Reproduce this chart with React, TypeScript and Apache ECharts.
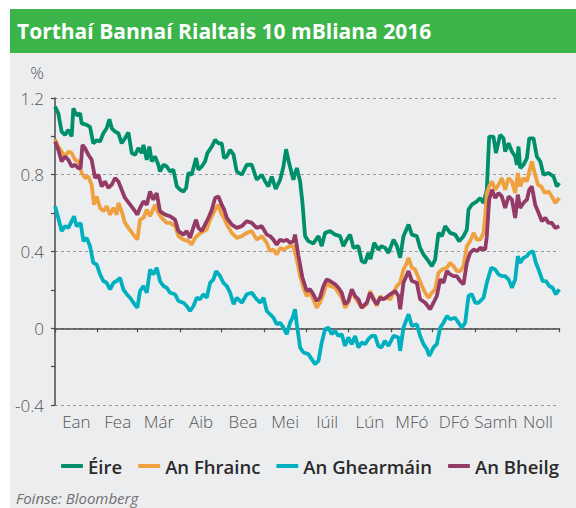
import React, { useEffect, useRef } from "react";
import * as echarts from "echarts";

const TITLE = "Torthaí Bannaí Rialtais 10 mBliana 2016";
const SOURCE = "Foinse: Bloomberg";
const MONTHS = ["Ean", "Fea", "Már", "Aib", "Bea", "Mei", "Iúil", "Lún", "MFó", "DFó", "Samh", "Noll"];
const MONTH_STARTS = [0, 31, 60, 91, 121, 152, 182, 213, 244, 274, 305, 335, 366];
const Y_TICKS = [-0.4, 0, 0.4, 0.8, 1.2];
const SERIES_NAMES = ["Éire", "An Fhrainc", "An Ghearmáin", "An Bheilg"];
const COLORS = ["#008f6b", "#f0a13f", "#00b0bf", "#943a66"];

// [day of year, yield %]
const eire: number[][] = [
  [0,1.155],[2.4,1.12],[4.8,1.025],[7.3,1.008],[9.7,1.034],[12.1,1.0],[13.3,1.146],[15.7,1.11],[18.2,1.12],[19.4,1.068],[23,1.06],[25.4,1.05],[27.8,0.964],[30.3,0.98],[32.7,0.973],[35.1,1.016],[37.5,1.042],[39.5,1.089],[41.2,1.042],[43.6,1.025],[46,1.016],[48.4,0.964],[50.8,0.99],[53.3,1.02],[55.7,0.913],[58.1,0.904],[60.5,0.939],[63,0.913],[64.2,0.956],[66.6,0.878],[68.5,0.947],[70.2,0.869],[72.6,0.895],[75,0.852],[76.2,0.817],[78.7,0.852],[81.1,0.843],[83.5,0.817],[85.9,0.826],[88.4,0.739],[90.8,0.722],[93.2,0.713],[95.1,0.73],[96.8,0.809],[99.2,0.8],[102.4,0.887],[104.1,0.826],[106.5,0.843],[108.9,0.869],[110.6,0.913],[113.8,0.947],[116.2,0.982],[118.6,0.964],[121,0.964],[122.7,0.887],[124.7,0.895],[127.1,0.93],[129.6,0.904],[131.9,0.817],[135.6,0.8],[139.2,0.852],[142.8,0.852],[146.4,0.774],[150.1,0.8],[152.5,0.765],[154.9,0.739],[157.3,0.791],[160.2,0.726],[163.4,0.774],[165.8,0.843],[167.7,0.933],[169.9,0.861],[173,0.774],[175.5,0.835],[177.9,0.765],[179.6,0.653],[181.5,0.48],[183.9,0.454],[187.5,0.442],[191.2,0.48],[193.6,0.428],[196,0.497],[199.6,0.506],[203.3,0.488],[206.9,0.48],[209.3,0.428],[211.7,0.462],[214.2,0.488],[216.6,0.419],[220.2,0.428],[222.6,0.35],[225,0.341],[227.4,0.393],[229,0.36],[231.6,0.445],[234.6,0.41],[237,0.428],[239.6,0.419],[242,0.393],[245.7,0.462],[248.1,0.43],[250.5,0.367],[252.9,0.48],[256.6,0.54],[259,0.488],[262.6,0.48],[265,0.419],[267.5,0.384],[271.1,0.35],[273.5,0.324],[275.9,0.358],[278.3,0.497],[280.8,0.48],[283.2,0.532],[286.8,0.497],[290.4,0.488],[293.3,0.454],[296.5,0.48],[298.9,0.514],[300.1,0.618],[302.5,0.644],[306.2,0.661],[308.6,0.679],[311,0.653],[313.4,0.722],[315.1,0.999],[318.2,0.999],[320,0.913],[323.1,1.008],[325.5,0.99],[326.7,0.921],[329.2,0.964],[331.6,0.921],[334,0.895],[335.2,0.852],[336.4,0.947],[337.6,0.835],[340,0.852],[342.5,0.887],[344.2,0.99],[347.3,0.99],[349.7,0.895],[352.2,0.869],[354.6,0.8],[358.2,0.809],[361.8,0.791],[364.2,0.739],[366,0.757]
];

const fraince: number[][] = [
  [0,0.985],[2.4,0.947],[4.8,0.921],[7.3,0.895],[9.7,0.921],[12.1,0.913],[14.5,0.878],[16.9,0.869],[19.4,0.809],[21.8,0.783],[24.2,0.791],[26.6,0.748],[28.3,0.644],[30.3,0.687],[32.7,0.627],[35.1,0.61],[37.5,0.636],[40,0.592],[42.4,0.627],[44.8,0.592],[46,0.653],[48.4,0.61],[50.8,0.549],[53.3,0.523],[56.9,0.488],[59.8,0.462],[61.7,0.566],[64.2,0.575],[66.6,0.618],[69,0.584],[72.6,0.644],[75,0.601],[77.4,0.575],[81.1,0.549],[83.5,0.549],[87.1,0.532],[89.6,0.48],[93.2,0.462],[96.8,0.454],[99.2,0.436],[101.7,0.471],[104.1,0.488],[107.7,0.506],[110.1,0.514],[112.6,0.566],[116.2,0.618],[118.6,0.644],[120.5,0.6],[122.7,0.575],[124.7,0.54],[128.3,0.497],[131.9,0.471],[135.6,0.48],[139.2,0.497],[142.8,0.506],[146.4,0.462],[150.1,0.48],[153.7,0.445],[156.1,0.402],[158.5,0.41],[160.9,0.384],[163.4,0.419],[165.8,0.41],[168.2,0.419],[170.6,0.428],[173,0.428],[175.5,0.358],[177.9,0.272],[180.3,0.211],[182.7,0.168],[185.1,0.185],[187.5,0.151],[189.9,0.107],[192.3,0.133],[194.8,0.177],[197.2,0.237],[199.6,0.22],[203.3,0.211],[205.7,0.185],[208.1,0.159],[210.5,0.107],[212.9,0.133],[215.4,0.194],[217.8,0.159],[220.2,0.133],[222.6,0.107],[226.3,0.125],[228.7,0.194],[231.1,0.159],[233.5,0.116],[236,0.168],[238.4,0.151],[240,0.159],[243.3,0.151],[245.7,0.185],[248.1,0.22],[250.5,0.237],[252.9,0.306],[255.4,0.341],[256.6,0.367],[259,0.315],[261.4,0.306],[263.8,0.263],[266.3,0.22],[268.7,0.185],[271.1,0.159],[273.5,0.185],[275.9,0.203],[278.3,0.289],[280.8,0.306],[284.4,0.315],[286.8,0.341],[289.2,0.324],[291.6,0.298],[294.1,0.298],[296.5,0.324],[298.9,0.428],[301.3,0.454],[303.8,0.497],[306.2,0.462],[308.6,0.462],[311,0.497],[312.2,0.584],[313.4,0.705],[315.1,0.739],[317.1,0.765],[319.5,0.722],[321.9,0.748],[324.3,0.783],[326.7,0.722],[329.2,0.783],[331.6,0.765],[334,0.705],[335.9,0.809],[337.6,0.739],[340,0.783],[342.5,0.765],[344.2,0.817],[346.1,0.869],[348.1,0.809],[350.5,0.748],[352.9,0.739],[355.4,0.705],[358.2,0.713],[360.6,0.687],[363,0.653],[366,0.679]
];

const gearmain: number[][] = [
  [0,0.636],[2.4,0.575],[4.8,0.506],[7.3,0.532],[9.7,0.523],[12.1,0.558],[13.8,0.584],[15.7,0.532],[18.6,0.549],[20.6,0.454],[23,0.471],[25.4,0.428],[27.8,0.341],[30.3,0.332],[32.7,0.281],[35.1,0.246],[37.5,0.237],[40,0.203],[42.4,0.237],[44.8,0.246],[47.2,0.263],[49.6,0.203],[52.1,0.177],[54.5,0.159],[56.9,0.133],[59.8,0.107],[61.7,0.194],[64.2,0.22],[66.6,0.185],[69,0.306],[71.4,0.281],[73.8,0.315],[76.2,0.246],[78.7,0.22],[81.1,0.211],[83.5,0.185],[87.1,0.177],[89.6,0.142],[93.2,0.133],[95.6,0.116],[98,0.09],[100.5,0.116],[102.9,0.159],[105.3,0.151],[107.7,0.177],[110.1,0.159],[112.6,0.237],[115,0.255],[116.9,0.298],[119.8,0.272],[122.2,0.237],[124.7,0.22],[127.1,0.185],[129.6,0.125],[131.9,0.159],[135.6,0.133],[139.2,0.177],[142.8,0.185],[146.4,0.151],[148.9,0.133],[151.3,0.159],[153.7,0.09],[156.1,0.073],[158.5,0.055],[160.9,0.021],[163.4,0.029],[165.8,0.003],[168.2,-0.031],[170.6,0.029],[172.5,0.055],[174.2,0.099],[175.5,0.021],[177.9,-0.1],[180.3,-0.126],[183.9,-0.135],[186.3,-0.161],[188.7,-0.187],[191.2,-0.17],[193.6,-0.074],[196,-0.005],[198.4,0.003],[200.8,-0.031],[203.3,-0.014],[205.7,-0.04],[208.1,-0.031],[210.5,-0.092],[212.9,-0.048],[215.4,-0.083],[217.8,-0.04],[220.2,-0.1],[222.6,-0.074],[225,-0.083],[227.4,-0.057],[229.9,-0.04],[232.3,-0.04],[234.6,-0.092],[237,-0.1],[239.4,-0.066],[242,-0.092],[245.7,-0.04],[249.3,-0.048],[250.5,-0.118],[252.9,0.003],[256.6,0.073],[259,0.012],[262.6,0.021],[265,-0.04],[267.5,-0.083],[269.9,-0.109],[271.6,-0.144],[274.7,-0.1],[277.1,-0.083],[279.6,0.003],[282,0.029],[284.4,0.064],[286.8,0.047],[290.4,0.055],[292.8,0.029],[295.3,0.003],[297.7,0.029],[300.1,0.168],[302.5,0.177],[305,0.133],[307.4,0.133],[311,0.159],[313.4,0.237],[316.6,0.315],[319.5,0.306],[321.9,0.281],[324.3,0.272],[326.7,0.272],[329.2,0.255],[331.6,0.211],[334,0.255],[335.9,0.376],[337.6,0.341],[340,0.367],[342.5,0.376],[344.2,0.393],[346.8,0.402],[349,0.341],[351.4,0.298],[353.9,0.246],[356.3,0.246],[358.7,0.22],[361.1,0.211],[363.5,0.177],[366,0.203]
];

const beilg: number[][] = [
  [0,0.973],[2.4,0.93],[4.8,0.869],[7.3,0.895],[9.7,0.878],[12.1,0.843],[14.5,0.852],[16.9,0.835],[18.6,0.835],[19.9,0.956],[21.8,0.939],[24.2,0.904],[26.6,0.878],[29.1,0.783],[31.5,0.8],[33.9,0.739],[36.3,0.765],[38.7,0.731],[41.2,0.748],[43.6,0.783],[46,0.765],[48.4,0.722],[50.8,0.679],[54.5,0.644],[58.1,0.61],[59.8,0.592],[61.7,0.627],[64.2,0.661],[66.6,0.644],[69,0.713],[71.4,0.67],[73.8,0.705],[76.2,0.61],[79.9,0.592],[83.5,0.584],[87.1,0.566],[89.6,0.506],[93.2,0.488],[95.6,0.506],[98,0.471],[99.9,0.514],[102.4,0.566],[104.1,0.523],[106.5,0.506],[108.9,0.54],[111.4,0.575],[113.8,0.618],[116.2,0.679],[118.6,0.687],[121,0.644],[122.7,0.62],[124.7,0.575],[128.3,0.54],[131.9,0.523],[135.6,0.532],[139.2,0.558],[142.8,0.549],[146.4,0.523],[150.1,0.532],[153.7,0.488],[156.1,0.48],[158.5,0.462],[160.9,0.436],[163.4,0.462],[165.8,0.454],[168.2,0.462],[170.6,0.445],[173,0.454],[174.2,0.488],[176.7,0.376],[179.6,0.263],[182.7,0.194],[185.1,0.203],[187.5,0.177],[189.9,0.142],[192.3,0.159],[194.8,0.22],[197.2,0.255],[199.6,0.246],[203.3,0.229],[205.7,0.211],[208.1,0.185],[210.5,0.125],[212.9,0.142],[215.4,0.203],[217.8,0.168],[220.2,0.151],[222.6,0.107],[226.3,0.133],[228.7,0.185],[231.1,0.151],[233.5,0.125],[236,0.159],[238.4,0.151],[240,0.159],[243.3,0.177],[246.9,0.194],[249.3,0.168],[250.5,0.099],[252.9,0.237],[256.6,0.298],[259,0.246],[262.6,0.237],[265,0.151],[268.7,0.133],[272.3,0.099],[274.7,0.133],[277.1,0.168],[279.6,0.255],[282,0.237],[284.4,0.298],[286.8,0.281],[289.2,0.272],[291.6,0.272],[294.1,0.246],[296.5,0.229],[298.9,0.341],[301.3,0.393],[303.8,0.41],[306.2,0.402],[308.6,0.419],[312.2,0.41],[313.4,0.48],[315.1,0.67],[317.1,0.722],[319.5,0.679],[321.9,0.705],[324.3,0.687],[326.7,0.627],[329.2,0.687],[331.6,0.67],[334,0.575],[335.9,0.696],[337.6,0.627],[340,0.653],[342.5,0.67],[344.2,0.722],[346.1,0.739],[348.5,0.644],[351,0.601],[353.4,0.558],[355.8,0.575],[358.2,0.549],[360.6,0.549],[363,0.523],[366,0.532]
];

const SERIES_DATA = [eire, fraince, gearmain, beilg];

export default function App() {
  const ref = useRef<HTMLDivElement>(null);
  useEffect(() => {
    if (!ref.current) return;
    const chart = echarts.init(ref.current, null, { renderer: "svg" });
    const mids = MONTHS.map((_, i) => (MONTH_STARTS[i] + MONTH_STARTS[i + 1]) / 2);
    const font = "Open Sans";
    const option: any = {
      animation: false,
      textStyle: { fontFamily: font },
      graphic: [
        { type: "rect", z: -10, silent: true, shape: { x: 10, y: 52, width: 566, height: 456 }, style: { fill: "#ecedef" } },
        { type: "rect", z: -10, silent: true, shape: { x: 10, y: 9, width: 566, height: 44 }, style: { fill: "#3bb44a" } },
        { type: "text", x: 17, y: 31, style: { text: TITLE, fill: "#ffffff", fontFamily: font, fontSize: 21, fontWeight: "bold", verticalAlign: "middle" } },
        { type: "text", x: 37, y: 72, style: { text: "%", fill: "#555555", fontFamily: font, fontSize: 17, fontWeight: 300, align: "center", verticalAlign: "middle" } },
        { type: "text", x: 16, y: 498, style: { text: SOURCE, fill: "#707070", fontFamily: font, fontSize: 15, fontStyle: "italic", verticalAlign: "middle" } },
      ],
      grid: { left: 55, right: 16.7, top: 98, bottom: 103, containLabel: false, outerBoundsMode: "none" },
      legend: {
        data: SERIES_NAMES,
        left: 56,
        top: 450,
        icon: "roundRect",
        itemWidth: 22,
        itemHeight: 4,
        itemGap: 16,
        textStyle: { fontFamily: font, fontSize: 18.5, fontWeight: 600, color: "#2a2a2a", lineHeight: 22 },
      },
      xAxis: [
        {
          type: "value",
          min: 0,
          max: 366,
          position: "bottom",
          axisLine: { show: false, onZero: false },
          axisTick: { show: false },
          splitLine: { show: false },
          axisLabel: {
            customValues: mids,
            margin: 8,
            fontFamily: font,
            fontSize: 17,
            fontWeight: 300,
            color: "#555555",
            formatter: (v: number) => {
              const i = mids.findIndex((m) => Math.abs(m - v) < 0.01);
              return i >= 0 ? MONTHS[i] : "";
            },
          },
        },
        {
          type: "value",
          min: 0,
          max: 366,
          position: "bottom",
          axisLine: { show: true, onZero: true, lineStyle: { color: "#4a4a4a", width: 1.5 } },
          axisTick: { show: true, customValues: MONTH_STARTS, length: 4, lineStyle: { color: "#4a4a4a", width: 1.2 } },
          axisLabel: { show: false },
          splitLine: { show: false },
        },
      ],
      yAxis: {
        type: "value",
        min: Y_TICKS[0],
        max: Y_TICKS[Y_TICKS.length - 1],
        interval: 0.4,
        axisLine: { show: true, onZero: false, lineStyle: { color: "#4a4a4a", width: 1.5 } },
        axisTick: { show: true, length: 4, lineStyle: { color: "#4a4a4a", width: 1.2 } },
        minorTick: { show: true, splitNumber: 2, length: 4, lineStyle: { color: "#4a4a4a", width: 1.2 } },
        minorSplitLine: { show: false },
        splitLine: { show: true, lineStyle: { color: "#9a9a9a", width: 1.2, type: [3, 3] } },
        axisLabel: {
          margin: 11,
          fontFamily: font,
          fontSize: 17,
          fontWeight: 300,
          color: "#555555",
          formatter: (v: number) => {
            const r = Math.round(v * 10) / 10;
            return r === 0 ? "0" : r.toFixed(1);
          },
        },
      },
      series: SERIES_NAMES.map((name, i) => ({
        name,
        type: "line",
        xAxisIndex: 0,
        data: SERIES_DATA[i],
        showSymbol: false,
        symbol: "none",
        color: COLORS[i],
        lineStyle: { color: COLORS[i], width: 3.8 },
        z: 3 + i,
      })),
    };
    chart.setOption(option);
    return () => chart.dispose();
  }, []);
  return (
    <div
      ref={ref}
      style={{ position: "absolute", left: 0, top: 0, width: 576, height: 508 }}
    />
  );
}
